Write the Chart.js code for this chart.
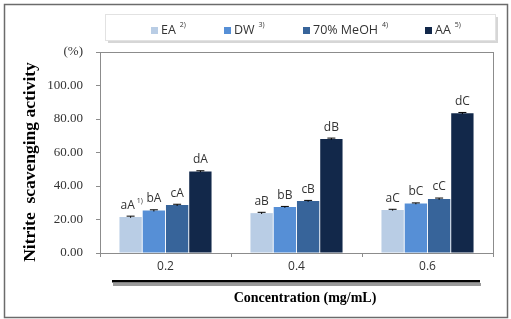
<!DOCTYPE html>
<html><head><meta charset="utf-8">
<script src="https://cdn.jsdelivr.net/npm/chart.js@4.4.1/dist/chart.umd.min.js"></script>
<style>html,body{margin:0;padding:0;background:#fff;}#wrap{width:511px;height:319px;position:relative;}</style>
</head><body><div id="wrap"><canvas id="c" width="511" height="319"></canvas></div>
<script>
const categories = ['0.2', '0.4', '0.6'];
const seriesNames = ['EA', 'DW', '70% MeOH', 'AA'];
const seriesNotes = ['2)', '3)', '4)', '5)'];
const valuesEA = [21.5, 23.8, 25.7];
const valuesDW = [25.3, 27.4, 29.5];
const valuesMeOH = [28.6, 31.0, 32.3];
const valuesAA = [48.7, 68.1, 83.4];
const errEA = [0.5, 0.5, 0.4];
const errDW = [0.5, 0.4, 0.4];
const errMeOH = [0.5, 0.4, 0.5];
const errAA = [0.4, 0.5, 0.5];
const labelsEA = ['aA', 'aB', 'aC'];
const labelsDW = ['bA', 'bB', 'bC'];
const labelsMeOH = ['cA', 'cB', 'cC'];
const labelsAA = ['dA', 'dB', 'dC'];
const yTicks = [0, 20, 40, 60, 80, 100, 120];
const colors = ['#b9cde5', '#568fd6', '#37649a', '#12284a'];

const values = [valuesEA, valuesDW, valuesMeOH, valuesAA];
const errs = [errEA, errDW, errMeOH, errAA];
const letters = [labelsEA, labelsDW, labelsMeOH, labelsAA];

const decor = {
  id: 'decor',
  beforeDraw(chart) {
    const ctx = chart.ctx;
    ctx.save();
    ctx.fillStyle = '#fff';
    ctx.fillRect(0, 0, chart.width, chart.height);
    ctx.strokeStyle = '#6b6b6b';
    ctx.lineWidth = 1.5;
    ctx.strokeRect(4.5, 4.5, 503, 313);
    ctx.restore();
  },
  afterDraw(chart) {
    const ctx = chart.ctx;
    const a = chart.chartArea;
    const y = chart.scales.y;
    ctx.save();
    ctx.strokeStyle = '#8c8c8c';
    ctx.lineWidth = 1;
    ctx.strokeRect(Math.round(a.left) + 0.5, Math.round(a.top) + 0.5, Math.round(a.right - a.left), Math.round(a.bottom - a.top));
    chart.data.datasets.forEach((ds, di) => {
      const meta = chart.getDatasetMeta(di);
      meta.data.forEach((bar, i) => {
        const v = ds.data[i];
        const e = errs[di][i];
        const yt = y.getPixelForValue(v + e);
        const yb = y.getPixelForValue(v - e);
        ctx.strokeStyle = '#000';
        ctx.lineWidth = 1;
        ctx.beginPath();
        ctx.moveTo(bar.x, yt); ctx.lineTo(bar.x, yb);
        ctx.moveTo(bar.x - 4, yt); ctx.lineTo(bar.x + 4, yt);
        ctx.stroke();
        ctx.fillStyle = '#333';
        ctx.font = '12px "Open Sans", "Liberation Sans", sans-serif';
        ctx.textAlign = 'center';
        ctx.textBaseline = 'bottom';
        ctx.fillText(letters[di][i], bar.x - (di === 0 && i === 0 ? 3 : 0), yt - 5);
        if (di === 0 && i === 0) {
          const w = ctx.measureText(letters[di][i]).width;
          ctx.font = '7px "Open Sans", sans-serif';
          ctx.textAlign = 'left';
          ctx.fillText('1)', bar.x - 3 + w / 2 + 2, yt - 12);
        }
      });
    });
    const lx = 105, ly = 14, lw = 390, lh = 26;
    ctx.fillStyle = '#d6d6d6';
    ctx.fillRect(lx + 3, ly + 3, lw, lh);
    ctx.fillStyle = '#fff';
    ctx.fillRect(lx, ly, lw, lh);
    ctx.strokeStyle = '#e2e2e2';
    ctx.strokeRect(lx + 0.5, ly + 0.5, lw, lh);
    const itemX = [151, 224, 303, 425];
    ctx.textBaseline = 'middle';
    seriesNames.forEach((n, i) => {
      ctx.fillStyle = colors[i];
      ctx.fillRect(itemX[i], 27, 7, 7);
      ctx.fillStyle = '#333';
      ctx.font = '12.5px "Open Sans", "Liberation Sans", sans-serif';
      ctx.textAlign = 'left';
      ctx.fillText(n, itemX[i] + 10, 30);
      const w = ctx.measureText(n).width;
      ctx.font = '7px "Open Sans", sans-serif';
      ctx.fillText(seriesNotes[i], itemX[i] + 10 + w + 4, 25);
    });
    ctx.fillStyle = '#000';
    ctx.font = 'bold 17.5px "Liberation Serif", serif';
    ctx.textAlign = 'center';
    ctx.textBaseline = 'middle';
    ctx.translate(30, 162);
    ctx.rotate(-Math.PI / 2);
    ctx.fillText('Nitrite  scavenging activity', 0, 0);
    ctx.setTransform(1, 0, 0, 1, 0, 0);
    ctx.fillStyle = '#9a9a9a';
    ctx.fillRect(113, 283, 368, 3);
    ctx.fillStyle = '#000';
    ctx.fillRect(112, 280, 368, 2.5);
    ctx.font = 'bold 14px "Liberation Serif", serif';
    ctx.fillText('Concentration (mg/mL)', 305, 298);
    ctx.restore();
  }
};

new Chart(document.getElementById('c'), {
  type: 'bar',
  data: {
    labels: categories,
    datasets: seriesNames.map((n, i) => ({
      label: n,
      data: values[i],
      backgroundColor: colors[i],
      borderWidth: 0,
      categoryPercentage: 0.71,
      barPercentage: 0.96
    }))
  },
  options: {
    responsive: false,
    animation: false,
    devicePixelRatio: 1,
    layout: { padding: { left: 0, right: 18, top: 52, bottom: 0 } },
    plugins: { legend: { display: false }, tooltip: { enabled: false } },
    scales: {
      x: {
        afterFit(s) { s.height = 66; },
        grid: { offset: true, drawOnChartArea: false, color: '#8c8c8c', tickLength: 4 },
        border: { color: '#8c8c8c' },
        ticks: { color: '#333', font: { size: 12, family: '"Open Sans", "Liberation Sans", sans-serif' }, padding: 2 }
      },
      y: {
        min: 0, max: 120,
        afterFit(s) { s.width = 100; },
        afterBuildTicks(s) { s.ticks = yTicks.map(v => ({ value: v })); },
        grid: { drawOnChartArea: false, color: '#8c8c8c', tickLength: 4 },
        border: { color: '#8c8c8c' },
        ticks: {
          color: '#333',
          padding: 13,
          font: { size: 13, family: '"Liberation Serif", serif' },
          callback: v => v === 120 ? '(%)' : Number(v).toFixed(2)
        }
      }
    }
  },
  plugins: [decor]
});
</script></body></html>
